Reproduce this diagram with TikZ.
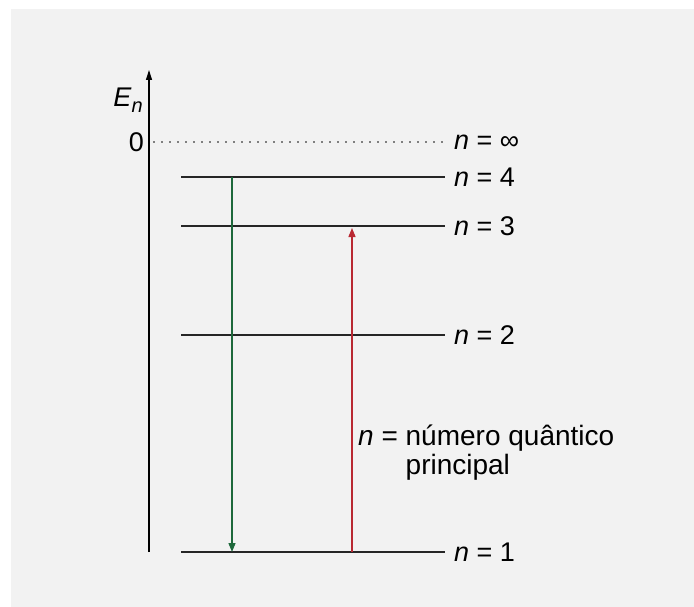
\documentclass[tikz,border=0pt]{standalone}
\usepackage{fontspec}
\setmainfont{Liberation Sans}
\usepackage{xcolor}
\definecolor{panel}{RGB}{242,242,242}
\definecolor{emit}{RGB}{30,105,60}
\definecolor{absorb}{RGB}{185,40,50}
\usepackage{tikz}
\usetikzlibrary{arrows.meta,positioning,calc}
\tikzset{
  level/.style={draw=black!85,line width=1.3pt},
  lab/.style={anchor=west,inner sep=4pt,%
    font=\fontsize{27}{30}\selectfont},
  trans/.style={-{Triangle[length=9pt,width=7pt]},line width=1.3pt},
  axis/.style={-{Triangle[length=10pt,width=6pt]},line width=1.4pt},
}
\begin{document}
\begin{tikzpicture}[x=1pt,y=-1pt]
\useasboundingbox (0,0) rectangle (694,607);
\fill[panel] (11,9) rectangle (694,607);
% energy axis
\coordinate (ax0) at (149,552);
\coordinate (ax1) at (149,70);
\draw[axis] (ax0) -- (ax1);
\node[lab,anchor=center] (en) at (128,100) {\textit{E}\raisebox{-0.45ex}{\fontsize{20}{20}\selectfont\textit{n}}};
\node[lab,anchor=east] (zero) at (148,142) {0};
% levels
\coordinate (sinf) at (153,142);
\coordinate (s4) at (181,177);
\coordinate (s3) at (181,226);
\coordinate (s2) at (181,335);
\coordinate (s1) at (181,552);
\node[lab,inner xsep=9pt] (ninf) at (445,142) {\textit{n} = ∞};
\node[lab,inner xsep=9pt] (n4)   at (445,177) {\textit{n} = 4};
\node[lab,inner xsep=9pt] (n3)   at (445,226) {\textit{n} = 3};
\node[lab,inner xsep=9pt] (n2)   at (445,335) {\textit{n} = 2};
\node[lab,inner xsep=9pt] (n1)   at (445,552) {\textit{n} = 1};
\draw[gray,line width=1.2pt,dash pattern=on 1.5pt off 6.5pt] (sinf) -- (ninf);
\draw[level] (s4) -- (n4);
\draw[level] (s3) -- (n3);
\draw[level] (s2) -- (n2);
\draw[level] (s1) -- (n1);
% transitions
\coordinate (e4) at (232,177);
\coordinate (e1) at (232,552);
\coordinate (a1) at (352,552);
\coordinate (a3) at (352,228);
\draw[trans,emit] (e4) -- (e1);
\draw[trans,absorb] (a1) -- (a3);
\node[lab,anchor=north west,align=left,font=\fontsize{28}{29}\selectfont] (note) at (354,421)
  {\textit{n} = número quântico\\\hphantom{\textit{n} = }principal};
\end{tikzpicture}
\end{document}
